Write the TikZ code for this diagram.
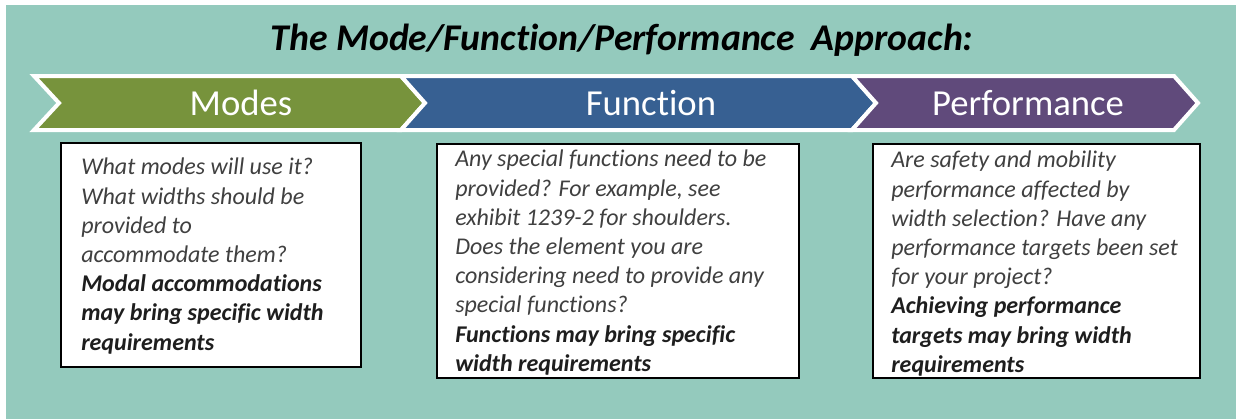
\documentclass[tikz,border=0pt]{standalone}
\usepackage{fontspec}
\setmainfont{Carlito}[Ligatures=NoCommon]
\usepackage{tikz}

\definecolor{bgteal}{RGB}{148,202,189}
\definecolor{modegreen}{RGB}{119,147,60}
\definecolor{funcblue}{RGB}{55,96,146}
\definecolor{perfpurple}{RGB}{96,74,123}
\definecolor{notegray}{RGB}{64,64,64}
\definecolor{notedark}{RGB}{30,30,30}

\tikzset{
  chev/.style={draw=white, line width=3pt, line join=miter},
  chevlabel/.style={text=white, inner sep=0pt, font=\fontsize{27.5}{33}\selectfont},
  notebox/.style={draw=black, line width=1.9pt, fill=white},
  notetext/.style={anchor=north west, inner sep=0pt, align=left, text=notegray,
    font=\fontsize{18}{21.9}\selectfont\itshape},
}
\newcommand{\keyline}[1]{{\color{notedark}\bfseries #1}}

\begin{document}
\begin{tikzpicture}[x=0.75pt,y=0.75pt,yscale=-1,xscale=1]
        \useasboundingbox (0,0) rectangle (1236,419);

        %Shape: Rectangle [background]
        \fill [bgteal] (6,5) rectangle (1236,419);

        % Title
        \node (title) [anchor=base, inner sep=0pt, font=\fontsize{28.3}{34}\selectfont\bfseries\itshape] at (622,50) {The Mode/Function/Performance\ \ Approach:};

        %Shape: Chevron [modes]
        \draw [chev, fill=modegreen] (34,76) -- (401,76) -- (425,103) -- (401,130) -- (34,130) -- (59,103) -- cycle ;
        %Shape: Chevron [function]
        \draw [chev, fill=funcblue] (401,76) -- (852,76) -- (876,103) -- (852,130) -- (401,130) -- (425,103) -- cycle ;
        %Shape: Chevron [performance]
        \draw [chev, fill=perfpurple] (852,76) -- (1174,76) -- (1198,103) -- (1174,130) -- (852,130) -- (876,103) -- cycle ;

        \node (modes) [chevlabel] at (241,103) {Modes};
        \node (function) [chevlabel] at (651,103) {Function};
        \node (performance) [chevlabel] at (1028,103) {Performance};

        %Shape: Rectangle [notes]
        \draw [notebox] (61,143) rectangle (361,367) ;
        \draw [notebox] (437,144) rectangle (799,378) ;
        \draw [notebox] (873,144) rectangle (1200,378) ;

        % Text Node
        \node (modesnote) [notetext] at (81,158) {What modes will use it?\\ What widths should be\\ provided to\\ accommodate them?\\ \keyline{Modal accommodations}\\ \keyline{may bring specific width}\\ \keyline{requirements}};
        % Text Node
        \node (functionnote) [notetext] at (455,150) {Any special functions need to be\\ provided? For example, see\\ exhibit 1239-2 for shoulders.\\ Does the element you are\\ considering need to provide any\\ special functions?\\ \keyline{Functions may bring specific}\\ \keyline{width requirements}};
        % Text Node
        \node (performancenote) [notetext] at (891,151) {Are safety and mobility\\ performance affected by\\ width selection? Have any\\ performance targets been set\\ for your project?\\ \keyline{Achieving performance}\\ \keyline{targets may bring width}\\ \keyline{requirements}};

\end{tikzpicture}
\end{document}
